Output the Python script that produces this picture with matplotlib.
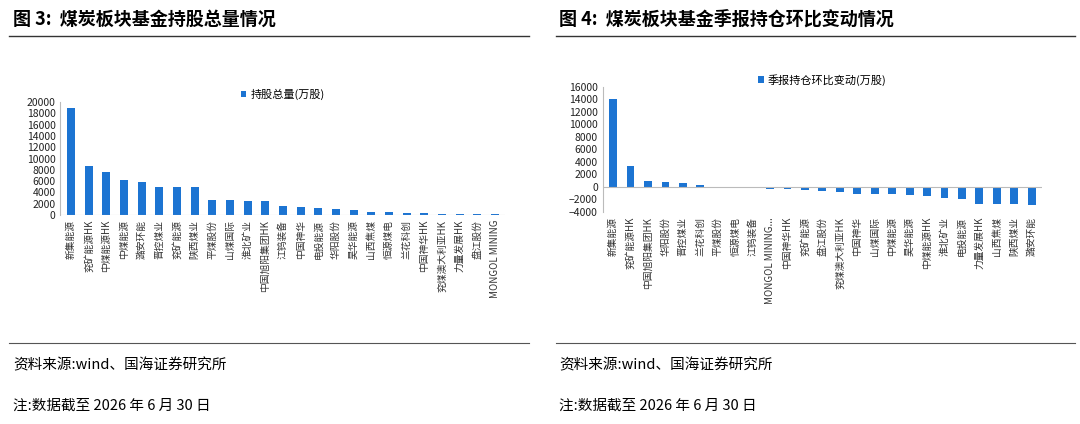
import matplotlib.pyplot as plt
from matplotlib.lines import Line2D

plt.rcParams['font.family'] = ['Noto Sans CJK SC', 'DejaVu Sans']

left_names = ["新集能源", "兖矿能源HK", "中煤能源HK", "中煤能源", "潞安环能", "晋控煤业", "兖矿能源",
              "陕西煤业", "平煤股份", "山煤国际", "淮北矿业", "中国旭阳集团HK", "江钨装备", "中国神华",
              "电投能源", "华阳股份", "昊华能源", "山西焦煤", "恒源煤电", "兰花科创", "中国神华HK",
              "兖煤澳大利亚HK", "力量发展HK", "盘江股份", "MONGOL MINING"]
left_vals = [18900, 8700, 7600, 6200, 5800, 5000, 5000, 5000, 2700, 2700, 2500, 2400, 1600, 1450,
             1300, 1000, 900, 600, 500, 400, 350, 200, 150, 150, 100]

right_names = ["新集能源", "兖矿能源HK", "中国旭阳集团HK", "华阳股份", "晋控煤业", "兰花科创", "平煤股份",
               "恒源煤电", "江钨装备", "MONGOL MINING...", "中国神华HK", "兖矿能源", "盘江股份",
               "兖煤澳大利亚HK", "中国神华", "山煤国际", "中煤能源", "昊华能源", "中煤能源HK", "淮北矿业",
               "电投能源", "力量发展HK", "山西焦煤", "陕西煤业", "潞安环能"]
right_vals = [14000, 3300, 900, 800, 600, 350, 20, 10, -150, -250, -350, -500, -700, -750, -1100,
              -1150, -1150, -1350, -1400, -1800, -2000, -2650, -2650, -2750, -2850]

BLUE = "#1c74d2"

fig = plt.figure(figsize=(10.8, 4.24), dpi=100)


def draw(ax, names, vals, label, ylim, step):
    x = list(range(len(names)))
    ax.bar(x, vals, width=0.45, color=BLUE, label=label)
    ax.set_xlim(-0.6, len(names) - 0.4)
    ax.set_ylim(*ylim)
    ax.set_yticks(range(ylim[0], ylim[1] + 1, step))
    ax.tick_params(axis="y", labelsize=7.5, length=0, colors="#222222")
    ax.tick_params(axis="x", length=0)
    ax.set_xticks(x)
    ax.set_xticklabels(names)
    plt.setp(ax.get_xticklabels(), rotation=90, fontsize=7, color="#333333",
             ha="center", va="top")
    for s in ["top", "right", "bottom"]:
        ax.spines[s].set_visible(False)
    ax.spines["left"].set_color("#bbbbbb")
    ax.axhline(0, color="#bbbbbb", lw=0.8)
    ax.legend(loc="lower center", bbox_to_anchor=(0.5, 0.93), frameon=False, fontsize=8,
              handlelength=0.5, handleheight=0.5, handletextpad=0.4)


ax1 = fig.add_axes([0.056, 0.493, 0.412, 0.266])
draw(ax1, left_names, left_vals, "持股总量(万股)", (0, 20000), 2000)

ax2 = fig.add_axes([0.558, 0.5, 0.407, 0.295])
draw(ax2, right_names, right_vals, "季报持仓环比变动(万股)", (-4000, 16000), 2000)

fig.text(0.012, 0.955, "图 3:  煤炭板块基金持股总量情况", fontsize=13, fontweight="bold", va="center")
fig.text(0.518, 0.955, "图 4:  煤炭板块基金季报持仓环比变动情况", fontsize=13, fontweight="bold", va="center")
for x0, x1 in [(0.008, 0.49), (0.515, 0.995)]:
    fig.add_artist(Line2D([x0, x1], [0.915, 0.915], color="#333333", lw=1.0))
    fig.add_artist(Line2D([x0, x1], [0.19, 0.19], color="#555555", lw=0.8))

for xx in [0.012, 0.518]:
    fig.text(xx, 0.138, "资料来源:wind、国海证券研究所", fontsize=10.5, va="center")
    fig.text(xx, 0.043, "注:数据截至 2026 年 6 月 30 日", fontsize=10.5, va="center")

fig.savefig("out.png", dpi=100, facecolor="white")
